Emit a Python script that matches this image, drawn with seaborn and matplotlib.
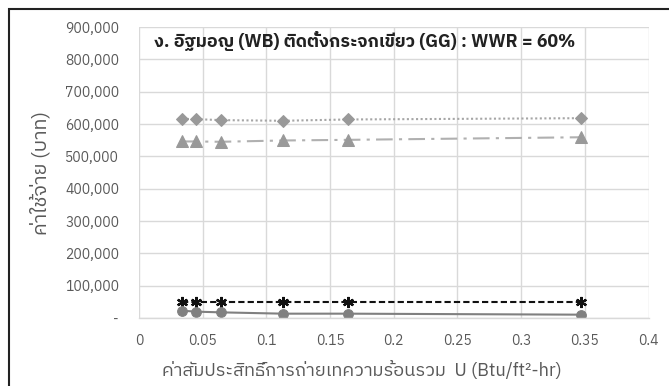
import matplotlib
matplotlib.use("Agg")
import matplotlib.pyplot as plt
from matplotlib import font_manager, ft2font
from matplotlib.ticker import FuncFormatter, MultipleLocator
from matplotlib.patches import Rectangle
import seaborn as sns
import pandas as pd

# U-value of each wall assembly (Btu/ft2-hr)
u_values = [0.034, 0.045, 0.064, 0.113, 0.164, 0.347]

# Cost series (baht)
cost_diamond = [616000, 615000, 612000, 610000, 614000, 618000]
cost_triangle = [546000, 546000, 545000, 549000, 551000, 559000]
cost_star = [48500, 48500, 48500, 48500, 48500, 48500]
cost_circle = [22600, 19600, 17500, 13400, 13400, 10300]

title_text = "ง. อิฐมอญ (WB) ติดตั้งกระจกเขียว (GG) : WWR = 60%"
x_label = "ค่าสัมประสิทธิ์การถ่ายเทความร้อนรวม  U (Btu/ft²-hr)"
y_label = "ค่าใช้จ่าย (บาท)"

W, H = 669, 386
AX_L, AX_R, AX_T, AX_B = 139, 648.5, 27, 318


def font_with(ch, prefer=("Sans",)):
    found = []
    for f in font_manager.fontManager.ttflist:
        try:
            ft = ft2font.FT2Font(f.fname)
            if ord(ch) in ft.get_charmap():
                found.append(f.name)
        except Exception:
            pass
    for name in found:
        if any(p in name for p in prefer) and "Mono" not in name and "Serif" not in name:
            return name
    return found[0] if found else None


sns.set_theme(style="whitegrid")
thai = font_with("ก")
families = [thai, "DejaVu Sans"] if thai else ["DejaVu Sans"]
plt.rcParams["font.family"] = families

fig = plt.figure(figsize=(W / 100, H / 100), dpi=100)
ax = fig.add_axes([AX_L / W, 1 - AX_B / H, (AX_R - AX_L) / W, (AX_B - AX_T) / H])


def ax_x(px):
    return (px - AX_L) / (AX_R - AX_L)


def ax_y(py):
    return (AX_B - py) / (AX_B - AX_T)


def fit_size(artist, target, along="width", rounds=3):
    """Scale a text's font size so its extent reaches the target length in pixels."""
    renderer = fig.canvas.get_renderer()
    for _ in range(rounds):
        bb = artist.get_window_extent(renderer)
        cur = bb.width if along == "width" else bb.height
        if cur > 0:
            artist.set_fontsize(artist.get_fontsize() * target / cur)
    return artist.get_fontsize()


series = [
    (cost_diamond, dict(color="#a6a6a6", linestyle=(0, (1, 1.2)), marker="D",
                        markersize=6, markerfacecolor="#999999", markeredgecolor="#999999")),
    (cost_triangle, dict(color="#b0b0b0", linestyle=(0, (8, 3, 1.5, 3)), marker="^",
                         markersize=8, markerfacecolor="#999999", markeredgecolor="#999999")),
    (cost_star, dict(color="#111111", linestyle=(0, (3, 1.5)), marker=(6, 2, 0),
                     markersize=8, markeredgewidth=1.6, markerfacecolor="#111111",
                     markeredgecolor="#111111")),
    (cost_circle, dict(color="#808080", linestyle="-", marker="o",
                       markersize=7, markerfacecolor="#808080", markeredgecolor="#808080")),
]

for values, style in series:
    df = pd.DataFrame({"u": u_values, "cost": values})
    sns.lineplot(data=df, x="u", y="cost", ax=ax, linewidth=1.5, **style)

ax.set_xlim(0, 0.4)
ax.set_ylim(0, 900000)
ax.xaxis.set_major_locator(MultipleLocator(0.05))
ax.yaxis.set_major_locator(MultipleLocator(100000))
ax.xaxis.set_major_formatter(FuncFormatter(lambda v, p: f"{v:g}"))
ax.yaxis.set_major_formatter(FuncFormatter(lambda v, p: "-" if abs(v) < 1 else f"{v:,.0f}"))

ax.set_facecolor("white")
ax.grid(True, color="#d9d9d9", linewidth=1)
for side in ("top", "right", "left"):
    ax.spines[side].set_visible(False)
ax.spines["bottom"].set_color("#d9d9d9")
ax.spines["bottom"].set_linewidth(1)

# tick label size: the widest value label spans about 55 px
probe = fig.text(0, 0, "900,000", fontsize=10)
tick_size = fit_size(probe, 55)
probe.remove()

ax.tick_params(axis="both", length=0, labelcolor="#595959", labelsize=tick_size)
ax.tick_params(axis="y", pad=20 * 72 / 100)
ax.tick_params(axis="x", pad=16 * 72 / 100)

ax.set_xlabel(x_label, fontsize=12, color="#595959")
ax.xaxis.set_label_coords(ax_x(361.5), ax_y(370), transform=ax.transAxes)
ax.xaxis.label.set_va("center")
fit_size(ax.xaxis.label, 402)

ax.set_ylabel(y_label, fontsize=12, color="#595959")
ax.yaxis.set_label_coords(ax_x(40), ax_y(173), transform=ax.transAxes)
ax.yaxis.label.set_va("center")
fit_size(ax.yaxis.label, 124.5, along="height")

title = ax.text(ax_x(154), ax_y(47), title_text, transform=ax.transAxes, fontsize=12,
                fontweight="bold", color="#222222", ha="left", va="baseline")
fit_size(title, 419)

# outer chart frame (top and left edges visible)
fig.patches.append(Rectangle((9 / W, -0.1), 1.2, 1 - 9 / H + 0.1, transform=fig.transFigure,
                             fill=False, edgecolor="#222222", linewidth=1.5, zorder=10))

fig.savefig("out.png", dpi=100)
